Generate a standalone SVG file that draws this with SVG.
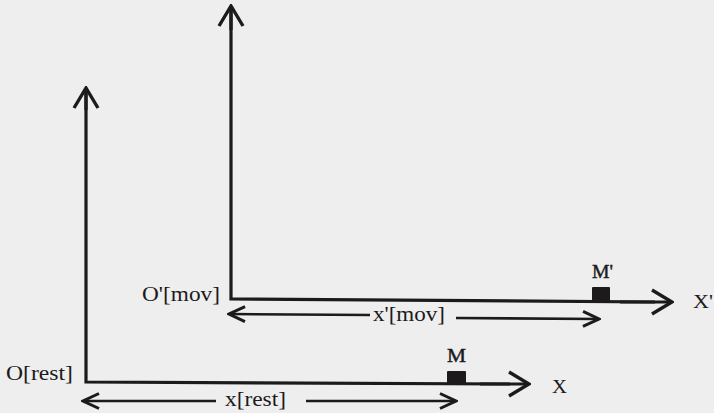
<svg xmlns="http://www.w3.org/2000/svg" width="714" height="413" viewBox="0 0 714 413">
  <defs>
    <style>
      .axis { stroke: #1c1a1b; stroke-width: 3.2; fill: none; stroke-linecap: butt; }
      .dim { stroke: #1c1a1b; stroke-width: 2.6; fill: none; }
      .lbl { font-family: "Liberation Serif", "Times New Roman", serif; font-size: 21px; fill: #1c1a1b; }
      .pt { fill: #1c1a1b; }
      .small { font-size: 18px; stroke: #1c1a1b; stroke-width: 0.4; }
    </style>
    <marker id="axisHead" viewBox="0 0 24 28" refX="22" refY="14" markerWidth="24" markerHeight="28" markerUnits="userSpaceOnUse" orient="auto">
      <path d="M2,2 L22,14 L2,26" fill="none" stroke="#1c1a1b" stroke-width="3.4" stroke-linejoin="miter"/>
    </marker>
    <marker id="dimHead" viewBox="0 0 20 18" refX="18" refY="9" markerWidth="20" markerHeight="18" markerUnits="userSpaceOnUse" orient="auto">
      <path d="M2,1.5 L18,9 L2,16.5" fill="none" stroke="#1c1a1b" stroke-width="3" stroke-linejoin="miter"/>
    </marker>
  </defs>
  <rect x="0" y="0" width="714" height="413" fill="#eeeeee"/>

  <g id="connectors">
    <!-- rest frame axes -->
    <polyline class="axis" points="86,90 86,382 510,384" />
    <line class="axis" x1="86" y1="110" x2="86" y2="88" marker-end="url(#axisHead)"/>
    <line class="axis" x1="480" y1="384" x2="529" y2="384" marker-end="url(#axisHead)"/>
    <!-- moving frame axes -->
    <polyline class="axis" points="231,8 231,299 655,302" />
    <line class="axis" x1="231" y1="30" x2="231" y2="6" marker-end="url(#axisHead)"/>
    <line class="axis" x1="620" y1="302" x2="672" y2="302" marker-end="url(#axisHead)"/>
    <!-- rest dimension -->
    <line class="dim" x1="216" y1="401" x2="83" y2="401" marker-end="url(#dimHead)"/>
    <line class="dim" x1="306" y1="401" x2="456" y2="401" marker-end="url(#dimHead)"/>
    <!-- moving dimension -->
    <line class="dim" x1="370" y1="315" x2="229" y2="314" marker-end="url(#dimHead)"/>
    <line class="dim" x1="456" y1="318" x2="599" y2="319" marker-end="url(#dimHead)"/>
  </g>

  <g id="origin-rest">
    <text class="lbl" x="6" y="380" textLength="67" lengthAdjust="spacingAndGlyphs">O[rest]</text>
  </g>
  <g id="origin-mov">
    <text class="lbl" x="142" y="301" textLength="78" lengthAdjust="spacingAndGlyphs">O'[mov]</text>
  </g>
  <g id="point-M">
    <rect class="pt" x="447" y="371" width="19" height="14" rx="1"/>
    <text class="lbl small" x="447" y="362" textLength="19" lengthAdjust="spacingAndGlyphs">M</text>
  </g>
  <g id="point-M-prime">
    <rect class="pt" x="592" y="287" width="18" height="15" rx="1"/>
    <text class="lbl small" x="592" y="278" textLength="21" lengthAdjust="spacingAndGlyphs">M'</text>
  </g>
  <g id="axis-X">
    <text class="lbl" x="552" y="393" textLength="15" lengthAdjust="spacingAndGlyphs" style="font-size:19px">X</text>
  </g>
  <g id="axis-X-prime">
    <text class="lbl" x="693" y="308" textLength="20" lengthAdjust="spacingAndGlyphs" style="font-size:19px">X'</text>
  </g>
  <g id="label-x-rest">
    <text class="lbl" x="225" y="406" textLength="61" lengthAdjust="spacingAndGlyphs">x[rest]</text>
  </g>
  <g id="label-x-mov">
    <text class="lbl" x="373" y="321" textLength="72" lengthAdjust="spacingAndGlyphs">x'[mov]</text>
  </g>
</svg>
